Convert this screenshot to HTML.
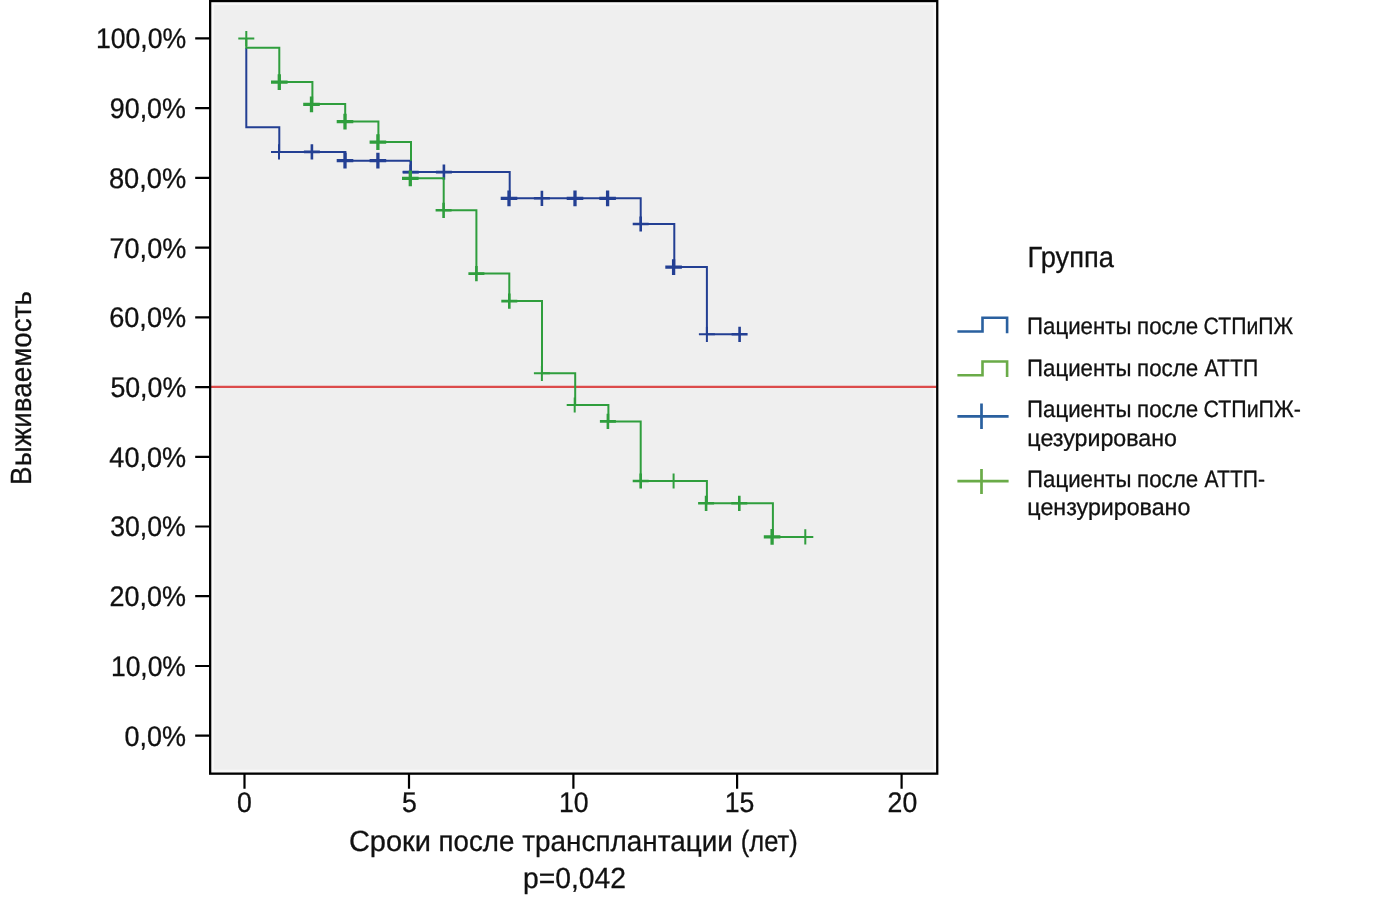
<!DOCTYPE html>
<html lang="ru">
<head>
<meta charset="utf-8">
<title>Выживаемость</title>
<style>
html,body{margin:0;padding:0;background:#fff;}
body{width:1400px;height:899px;overflow:hidden;}
svg{display:block;}
text{font-family:"Liberation Sans", Arial, Helvetica, sans-serif;fill:#111;stroke:#111;stroke-width:.3px;text-rendering:geometricPrecision;}
</style>
</head>
<body>
<svg width="1400" height="899" viewBox="0 0 1400 899">
<rect x="0" y="0" width="1400" height="899" fill="#fff"/>
<rect x="210.1" y="1" width="727.2" height="772.6" fill="#efefef" stroke="none"/>
<rect x="212.6" y="3.5" width="722.2" height="767.6" fill="none" stroke="#fff" stroke-opacity="0.55" stroke-width="3"/>
<path d="M211,386.9H936.5" stroke="#dc4b4b" stroke-width="2.3" fill="none"/>
<path d="M246.3,47.8 V127.2 H279.3 V151.9 H345.4 V160.7 H410.7 V172.1 H509.7 V198.3 H640.7 V224 H674.3 V267.1 H706.9 V334.3 H739.6" stroke="#233f93" stroke-width="2.0" fill="none" stroke-linejoin="miter"/>
<path d="M271.0,151.9H287.0M279.0,144.3V159.5M698.9,334.3H714.9M706.9,326.7V341.9" stroke="#233f93" stroke-width="2.0" fill="none"/>
<path d="M303.9,151.9H319.9M311.9,144.3V159.5M402.7,172.1H418.7M410.7,164.5V179.7M435.9,172.1H451.9M443.9,164.5V179.7M533.9,198.3H549.9M541.9,190.7V205.9M632.7,224.0H648.7M640.7,216.4V231.6M731.6,334.3H747.6M739.6,326.7V341.9" stroke="#233f93" stroke-width="2.6" fill="none"/>
<path d="M336.7,160.7H353.3M345.0,152.8V168.6M369.6,160.7H386.2M377.9,152.8V168.6M500.7,198.3H517.3M509.0,190.4V206.2M566.7,198.3H583.3M575.0,190.4V206.2M599.3,198.3H615.9M607.6,190.4V206.2M665.3,267.1H681.9M673.6,259.2V275.0" stroke="#233f93" stroke-width="3.3" fill="none"/>
<path d="M246.3,38.6 V47.8 H279.3 V82.1 H312.4 V104 H345.2 V121.6 H378.4 V142.1 H411 V178.3 H443.7 V210.3 H476.4 V273.6 H509.3 V301.1 H542 V373.3 H575.2 V405 H608.4 V421.4 H640.7 V481 H706.9 V503.3 H772.9 V536.9 H805.3" stroke="#2f9e3d" stroke-width="2.0" fill="none" stroke-linejoin="miter"/>
<path d="M410.8,160.7V173M402.7,172.1H419" stroke="#233f93" stroke-width="2.3" fill="none"/>
<path d="M238.3,38.6H254.3M246.3,31.0V46.2M533.9,373.3H549.9M541.9,365.7V380.9M566.7,405.0H582.7M574.7,397.4V412.6M665.6,481.0H681.6M673.6,473.4V488.6M797.3,536.9H813.3M805.3,529.3V544.5" stroke="#2f9e3d" stroke-width="2.0" fill="none"/>
<path d="M435.6,210.3H451.6M443.6,202.7V217.9M468.4,273.6H484.4M476.4,266.0V281.2M501.3,301.1H517.3M509.3,293.5V308.7M599.9,421.4H615.9M607.9,413.8V429.0M632.7,481.0H648.7M640.7,473.4V488.6M698.1,503.3H714.1M706.1,495.7V510.9M731.3,503.3H747.3M739.3,495.7V510.9" stroke="#2f9e3d" stroke-width="2.6" fill="none"/>
<path d="M271.0,82.1H287.6M279.3,74.2V90.0M303.2,104.3H319.8M311.5,96.4V112.2M336.7,121.7H353.3M345.0,113.8V129.6M369.6,142.1H386.2M377.9,134.2V150.0M402.0,178.3H418.6M410.3,170.4V186.2M763.8,536.9H780.4M772.1,529.0V544.8" stroke="#2f9e3d" stroke-width="3.3" fill="none"/>
<rect x="210.15" y="1.05" width="727.1" height="772.6" fill="none" stroke="#000" stroke-width="2.3"/>
<path d="M195.2,38.4H209.5M195.2,108.1H209.5M195.2,177.9H209.5M195.2,247.6H209.5M195.2,317.3H209.5M195.2,387.1H209.5M195.2,456.8H209.5M195.2,526.5H209.5M195.2,596.2H209.5M195.2,666.0H209.5M195.2,735.7H209.5" stroke="#000" stroke-width="2.2" fill="none"/>
<path d="M244.5,774V788.7M409,774V788.7M573.4,774V788.7M737.1,774V788.7M901.6,774V788.7" stroke="#000" stroke-width="2.2" fill="none"/>
<text id="xl0" transform="translate(244.45,812.4) scale(0.9388135407517733,1)" font-size="28.4" text-anchor="middle">0</text>
<text id="xl1" transform="translate(409.45,812.4) scale(0.9388135407517733,1)" font-size="28.4" text-anchor="middle">5</text>
<text id="xl2" transform="translate(573.85,812.4) scale(0.9388135407517733,1)" font-size="28.4" text-anchor="middle">10</text>
<text id="xl3" transform="translate(739.55,812.4) scale(0.9388135407517733,1)" font-size="28.4" text-anchor="middle">15</text>
<text id="xl4" transform="translate(902.4,812.4) scale(0.9388135407517733,1)" font-size="28.4" text-anchor="middle">20</text>
<text id="xt1" x="348.92" y="851.3" font-size="29.2" textLength="82.08" lengthAdjust="spacingAndGlyphs">Сроки</text>
<text id="xt2" x="438.53" y="851.3" font-size="29.2" textLength="75.78" lengthAdjust="spacingAndGlyphs">после</text>
<text id="xt3" x="522.34" y="851.3" font-size="29.2" textLength="210.49" lengthAdjust="spacingAndGlyphs">трансплантации</text>
<text id="xt4" x="740.77" y="851.3" font-size="29.2" textLength="56.90" lengthAdjust="spacingAndGlyphs">(лет)</text>
<text id="lg1a" x="1027.11" y="333.6" font-size="23.6" textLength="104.32" lengthAdjust="spacingAndGlyphs">Пациенты</text>
<text id="lg1b" x="1137.04" y="333.6" font-size="23.6" textLength="61.16" lengthAdjust="spacingAndGlyphs">после</text>
<text id="lg1c" x="1203.61" y="333.6" font-size="23.6" textLength="89.47" lengthAdjust="spacingAndGlyphs">СТПиПЖ</text>
<text id="lg2a" x="1027.11" y="376.1" font-size="23.6" textLength="104.32" lengthAdjust="spacingAndGlyphs">Пациенты</text>
<text id="lg2b" x="1137.04" y="376.1" font-size="23.6" textLength="61.16" lengthAdjust="spacingAndGlyphs">после</text>
<text id="lg2c" x="1204.58" y="376.1" font-size="23.6" textLength="53.56" lengthAdjust="spacingAndGlyphs">АТТП</text>
<text id="lg3a" x="1027.11" y="417.3" font-size="23.6" textLength="104.32" lengthAdjust="spacingAndGlyphs">Пациенты</text>
<text id="lg3b" x="1137.04" y="417.3" font-size="23.6" textLength="61.16" lengthAdjust="spacingAndGlyphs">после</text>
<text id="lg3c" x="1203.49" y="417.3" font-size="23.6" textLength="97.30" lengthAdjust="spacingAndGlyphs">СТПиПЖ-</text>
<text id="lg5a" x="1027.11" y="486.5" font-size="23.6" textLength="104.32" lengthAdjust="spacingAndGlyphs">Пациенты</text>
<text id="lg5b" x="1137.04" y="486.5" font-size="23.6" textLength="61.16" lengthAdjust="spacingAndGlyphs">после</text>
<text id="lg5c" x="1204.59" y="486.5" font-size="23.6" textLength="60.49" lengthAdjust="spacingAndGlyphs">АТТП-</text>
<text id="lg4" x="1027.36" y="445.5" font-size="23.6" textLength="149.68" lengthAdjust="spacingAndGlyphs">цезурировано</text>
<text id="lg6" x="1027.37" y="514.8" font-size="23.6" textLength="162.98" lengthAdjust="spacingAndGlyphs">цензурировано</text>
<text id="yl0" x="95.92" y="48.3" font-size="28.4" textLength="90.24" lengthAdjust="spacingAndGlyphs">100,0%</text>
<text id="yl1" x="109.79" y="118.0" font-size="28.4" textLength="76.11" lengthAdjust="spacingAndGlyphs">90,0%</text>
<text id="yl2" x="108.91" y="187.8" font-size="28.4" textLength="77.28" lengthAdjust="spacingAndGlyphs">80,0%</text>
<text id="yl3" x="109.56" y="257.5" font-size="28.4" textLength="76.68" lengthAdjust="spacingAndGlyphs">70,0%</text>
<text id="yl4" x="109.18" y="327.2" font-size="28.4" textLength="76.96" lengthAdjust="spacingAndGlyphs">60,0%</text>
<text id="yl5" x="110.40" y="396.9" font-size="28.4" textLength="75.79" lengthAdjust="spacingAndGlyphs">50,0%</text>
<text id="yl6" x="109.36" y="466.7" font-size="28.4" textLength="76.84" lengthAdjust="spacingAndGlyphs">40,0%</text>
<text id="yl7" x="110.18" y="536.4" font-size="28.4" textLength="75.62" lengthAdjust="spacingAndGlyphs">30,0%</text>
<text id="yl8" x="109.49" y="606.1" font-size="28.4" textLength="76.43" lengthAdjust="spacingAndGlyphs">20,0%</text>
<text id="yl9" x="110.96" y="675.9" font-size="28.4" textLength="74.92" lengthAdjust="spacingAndGlyphs">10,0%</text>
<text id="yl10" x="124.51" y="745.6" font-size="28.4" textLength="61.51" lengthAdjust="spacingAndGlyphs">0,0%</text>
<text id="pv" x="523.02" y="888.2" font-size="29.2" textLength="102.86" lengthAdjust="spacingAndGlyphs">p=0,042</text>
<text id="yt" x="0.00" y="0" font-size="29.2" textLength="193.86" lengthAdjust="spacingAndGlyphs" transform="translate(31.0,484.8945098039216) rotate(-90)">Выживаемость</text>
<text id="lg0" x="1027.51" y="267.4" font-size="29.2" textLength="86.42" lengthAdjust="spacingAndGlyphs">Группа</text>
<path d="M957.4,331.5H982.5V317.7H1007.1V333.2" stroke="#2a609f" stroke-width="2.6" fill="none"/>
<path d="M957.4,375.3H982.5V361.5H1007.1V377" stroke="#6aab48" stroke-width="2.6" fill="none"/>
<path d="M957.4,416.4H1008.6M981.5,403.6V428.9" stroke="#2a609f" stroke-width="2.7" fill="none"/>
<path d="M957.4,481.1H1008.6M981.5,468.9V494" stroke="#6aab48" stroke-width="2.7" fill="none"/>
</svg>
</body>
</html>
